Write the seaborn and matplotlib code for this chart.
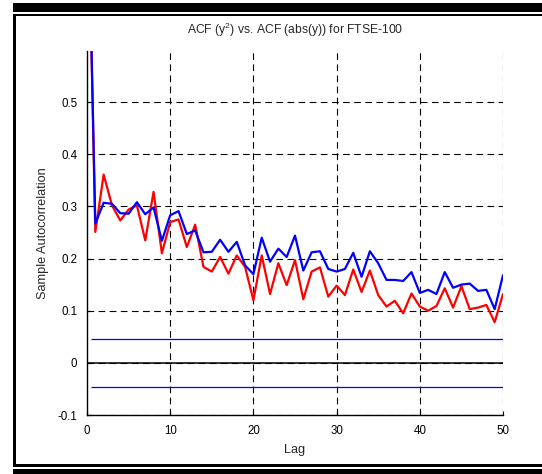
import matplotlib
matplotlib.use("Agg")
import matplotlib.pyplot as plt
from matplotlib.patches import Rectangle
import seaborn as sns
import pandas as pd

# ---- data ----
lags = list(range(0, 51))
acf_y2 = [1.0, 0.251, 0.361, 0.302, 0.273, 0.294, 0.302, 0.235, 0.328, 0.210,
          0.270, 0.275, 0.222, 0.265, 0.184, 0.175, 0.203, 0.171, 0.206, 0.184,
          0.120, 0.206, 0.132, 0.191, 0.149, 0.197, 0.122, 0.175, 0.183, 0.127,
          0.148, 0.130, 0.179, 0.136, 0.177, 0.130, 0.108, 0.119, 0.095, 0.133,
          0.108, 0.100, 0.109, 0.143, 0.106, 0.147, 0.103, 0.106, 0.111, 0.078,
          0.132]
acf_abs = [1.0, 0.267, 0.307, 0.305, 0.287, 0.286, 0.308, 0.285, 0.298, 0.234,
           0.283, 0.291, 0.247, 0.254, 0.212, 0.213, 0.236, 0.213, 0.232, 0.187,
           0.170, 0.240, 0.194, 0.219, 0.203, 0.244, 0.177, 0.212, 0.214, 0.180,
           0.175, 0.180, 0.211, 0.165, 0.214, 0.191, 0.159, 0.159, 0.157, 0.174,
           0.134, 0.140, 0.132, 0.174, 0.144, 0.150, 0.152, 0.138, 0.140, 0.103,
           0.168]
conf_bound = 0.046
bound_start = 0.5
xticks = [0, 10, 20, 30, 40, 50]
yticks = [-0.1, 0, 0.1, 0.2, 0.3, 0.4, 0.5]
ytick_labels = ["-0.1", "0", "0.1", "0.2", "0.3", "0.4", "0.5"]
title = "ACF (y$^2$) vs. ACF (abs(y)) for FTSE-100"

df = pd.DataFrame({
    "Lag": lags * 2,
    "ACF": acf_y2 + acf_abs,
    "series": ["y2"] * len(lags) + ["abs"] * len(lags),
})

sns.set_style("ticks")
plt.rcParams["font.family"] = ["Liberation Sans", "DejaVu Sans"]
plt.rcParams["mathtext.fontset"] = "custom"
plt.rcParams["mathtext.rm"] = "Liberation Sans"

fig = plt.figure(figsize=(5.42, 4.74), dpi=100)
ax = fig.add_axes([87 / 542, 1 - 415 / 474, (503 - 87) / 542, (415 - 51) / 474])

# grid
for xt in xticks[1:]:
    ax.axvline(xt, color="black", lw=0.8, dashes=(6, 4), zorder=1)
for yt in yticks:
    ax.axhline(yt, color="black", lw=0.8, dashes=(6, 4), zorder=1)

sns.lineplot(data=df, x="Lag", y="ACF", hue="series",
             palette={"y2": "#ff0000", "abs": "#0000ff"},
             hue_order=["y2", "abs"], linewidth=1.6, legend=False, ax=ax,
             zorder=3)

ax.hlines([conf_bound, -conf_bound], bound_start, lags[-1], color="#0000ff",
          lw=0.9, zorder=2)
ax.hlines(0, lags[0], lags[-1], color="black", lw=1.1, zorder=2)

ax.set_xlim(0, 50)
ax.set_ylim(-0.1, 0.598)
ax.set_xticks(xticks)
ax.set_yticks(yticks)
ax.set_yticklabels(ytick_labels)
ax.tick_params(direction="in", length=3, width=0.8, labelsize=8.3, colors="black")
ax.tick_params(axis="y", pad=7)
ax.tick_params(axis="x", pad=7)
for s in ["top", "right"]:
    ax.spines[s].set_visible(False)
for s in ["left", "bottom"]:
    ax.spines[s].set_color("black")
    ax.spines[s].set_linewidth(1.0)

ax.set_title(title, fontsize=8.7, pad=12)
ax.set_xlabel("Lag", fontsize=9.2, labelpad=5)
ax.set_ylabel("Sample Autocorrelation", fontsize=9.2, labelpad=6)

# window frame
W, H = 542.0, 474.0
def rect(x0, y0_top, x1, y1_top):
    fig.add_artist(Rectangle((x0 / W, 1 - y1_top / H), (x1 - x0) / W,
                             (y1_top - y0_top) / H, transform=fig.transFigure,
                             facecolor="black", edgecolor="none"))
rect(13, 3, 542, 11.5)
rect(13, 14, 542, 16)
rect(13, 14, 16, 466.5)
rect(13, 463.5, 542, 466.5)
rect(13, 468.5, 542, 474)

fig.savefig("out.png", dpi=100)
